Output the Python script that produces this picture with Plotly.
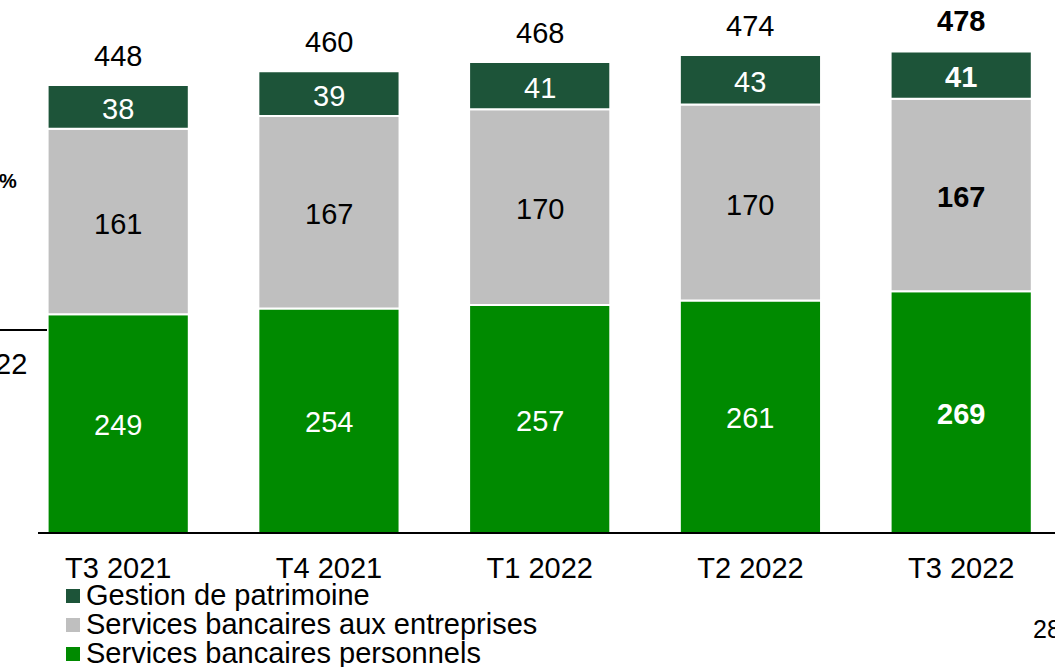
import plotly.graph_objects as go

# Quarterly revenue by segment
quarters = ["T3 2021", "T4 2021", "T1 2022", "T2 2022", "T3 2022"]
personnels = [249, 254, 257, 261, 269]
entreprises = [161, 167, 170, 170, 167]
patrimoine = [38, 39, 41, 43, 41]
totals = [448, 460, 468, 474, 478]

series_names = ["Gestion de patrimoine", "Services bancaires aux entreprises",
                "Services bancaires personnels"]
C_DARK = "#1D5439"
C_GREY = "#BFBFBF"
C_GREEN = "#008A00"

FONT = "Liberation Sans, Arial, sans-serif"
FS = 29

# value axis starts above zero (truncated scale)
Y_MIN = 60
Y_MAX = 521.8

# plot area in pixels
L, T, W, H = 38, 0, 1017, 532
FIG_W, FIG_H = 1055, 667


def px_x(px):
    return (px - L) / W


def px_y(py):
    return (T + H - py) / H


x = list(range(len(quarters)))
BAR_W = 0.67

fig = go.Figure()
for vals, base, col, name in [
    (personnels, [0] * 5, C_GREEN, series_names[2]),
    (entreprises, personnels, C_GREY, series_names[1]),
    (patrimoine, [p + e for p, e in zip(personnels, entreprises)], C_DARK, series_names[0]),
]:
    fig.add_trace(go.Bar(
        x=x, y=vals, base=base, name=name, width=BAR_W,
        marker=dict(color=col, line=dict(color="white", width=2)),
        showlegend=False, hoverinfo="skip",
    ))

last = len(quarters) - 1


def fmt(v, i):
    return f"<b>{v}</b>" if i == last else str(v)


annotations = []

# segment labels, centred in the visible part of each segment
for i in x:
    g, s, d = personnels[i], entreprises[i], patrimoine[i]
    for yv, v, col in [((Y_MIN + g) / 2, g, "white"),
                       (g + s / 2, s, "black"),
                       (g + s + d / 2, d, "white")]:
        annotations.append(dict(
            x=i, y=yv, xref="x", yref="y", text=fmt(v, i),
            showarrow=False, yanchor="middle", yshift=-2,
            font=dict(family=FONT, size=FS, color=col),
        ))

# totals above each bar
for i in x:
    annotations.append(dict(
        x=i, y=totals[i], xref="x", yref="y", text=fmt(totals[i], i),
        showarrow=False, yanchor="bottom", yshift=11,
        font=dict(family=FONT, size=FS, color="black"),
    ))

# legend drawn as squares + labels
shapes = []
leg_rows = [(595, C_DARK), (624, C_GREY), (653, C_GREEN)]
for (ry, col), name in zip(leg_rows, series_names):
    shapes.append(dict(
        type="rect", xref="paper", yref="paper",
        x0=px_x(66), x1=px_x(80), y0=px_y(ry + 8), y1=px_y(ry - 6),
        fillcolor=col, line=dict(width=0),
    ))
    annotations.append(dict(
        x=px_x(84), y=px_y(ry), xref="paper", yref="paper", text=name,
        showarrow=False, xanchor="left", yanchor="middle",
        font=dict(family=FONT, size=FS, color="black"),
    ))

# adjacent slide content at the edges
annotations.append(dict(
    x=px_x(19), y=px_y(181), xref="paper", yref="paper", text="<b>%</b>",
    showarrow=False, xanchor="right", yanchor="middle",
    font=dict(family=FONT, size=20, color="black"),
))
annotations.append(dict(
    x=px_x(29), y=px_y(364), xref="paper", yref="paper", text="22",
    showarrow=False, xanchor="right", yanchor="middle",
    font=dict(family=FONT, size=FS, color="black"),
))
annotations.append(dict(
    x=px_x(1031), y=px_y(629), xref="paper", yref="paper", text="28",
    showarrow=False, xanchor="left", yanchor="middle",
    font=dict(family=FONT, size=25, color="black"),
))
shapes.append(dict(
    type="line", xref="paper", yref="paper",
    x0=px_x(0), x1=px_x(47), y0=px_y(330), y1=px_y(330),
    line=dict(color="black", width=2),
))

x_span = (118.2 - L) / 210.75
fig.update_layout(
    width=FIG_W, height=FIG_H,
    margin=dict(l=L, r=FIG_W - L - W, t=T, b=FIG_H - T - H, pad=0),
    paper_bgcolor="white", plot_bgcolor="white",
    barmode="overlay",
    showlegend=False,
    xaxis=dict(
        range=[-x_span, -x_span + W / 210.75],
        tickmode="array", tickvals=x, ticktext=quarters,
        showgrid=False, zeroline=False,
        showline=True, linecolor="black", linewidth=2,
        ticks="", ticklabelstandoff=9,
        tickfont=dict(family=FONT, size=FS, color="black"),
    ),
    yaxis=dict(range=[Y_MIN, Y_MAX], visible=False, showgrid=False),
    annotations=annotations,
    shapes=shapes,
    font=dict(family=FONT),
)

fig.write_html("out.html")
